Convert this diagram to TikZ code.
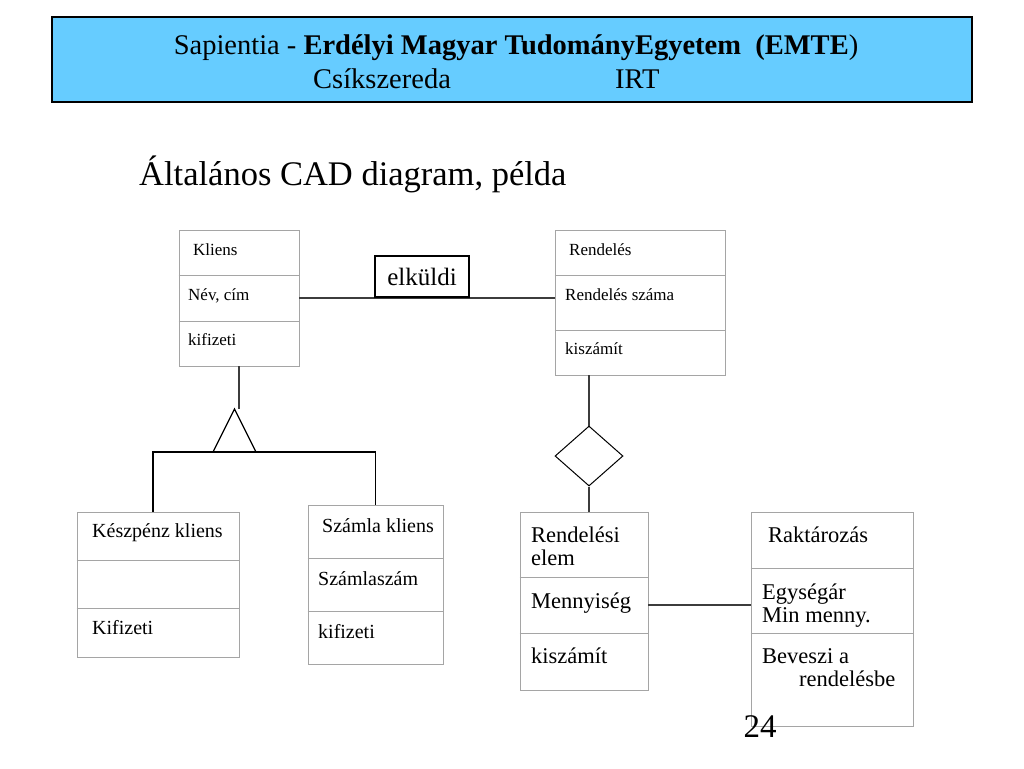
\documentclass[tikz,border=0pt]{standalone}
\usepackage{fontspec}
\setmainfont{Liberation Serif}
\usetikzlibrary{shapes.geometric, calc, positioning}
\usepackage{xcolor}
\definecolor{header}{RGB}{102,204,255}
\definecolor{boxline}{RGB}{165,165,165}
\definecolor{connline}{RGB}{60,60,60}

\begin{document}
\begin{tikzpicture}[x=1pt, y=-1pt]

% TikZ styles
\tikzset{
  classbox/.style={rectangle, draw=boxline, line width=0.9pt, inner sep=0pt},
  divider/.style={draw=boxline, line width=0.7pt},
  link/.style={draw=connline, line width=1.3pt},
  txt/.style={anchor=base west, inner sep=0pt, align=left},
  small/.style={font=\fontsize{17}{20}\selectfont},
  medium/.style={font=\fontsize{20}{23}\selectfont},
  big/.style={font=\fontsize{22.5}{23}\selectfont}
}

\useasboundingbox (0,0) rectangle (1024,768);

%==========================
% Kopfzeile
%==========================
\node[rectangle, draw=black, line width=2pt, fill=header, minimum width=920pt, minimum height=85pt] (header) at (512,59.5) {};
\node[anchor=base, inner sep=0pt, font=\fontsize{28.5}{30}\selectfont] (uni) at (516,55) {Sapientia - \textbf{Erdélyi Magyar TudományEgyetem\ \ (EMTE})};
\node[anchor=base west, inner sep=0pt, font=\fontsize{28.5}{30}\selectfont] (city) at (313,88) {Csíkszereda};
\node[anchor=base west, inner sep=0pt, font=\fontsize{28.5}{30}\selectfont] (irt) at (615,88) {IRT};

\node[anchor=base west, inner sep=0pt, font=\fontsize{34.5}{36}\selectfont] (title) at (139,185) {Általános CAD diagram, példa};

%==========================
% Klassen
%==========================
\node[classbox, minimum width=120pt, minimum height=136pt] (kliens) at (239,298) {};
\node[classbox, minimum width=170pt, minimum height=145pt] (rendeles) at (640,302.5) {};
\node[classbox, minimum width=162pt, minimum height=145pt] (keszpenz) at (158,584.5) {};
\node[classbox, minimum width=135pt, minimum height=159pt] (szamla) at (375.5,584.5) {};
\node[classbox, minimum width=128pt, minimum height=178pt] (relem) at (584,601) {};
\node[classbox, minimum width=162pt, minimum height=214pt] (raktar) at (832,619) {};

\draw[divider] (kliens.west |- 0,275) -- (kliens.east |- 0,275);
\draw[divider] (kliens.west |- 0,321) -- (kliens.east |- 0,321);
\draw[divider] (rendeles.west |- 0,275) -- (rendeles.east |- 0,275);
\draw[divider] (rendeles.west |- 0,330) -- (rendeles.east |- 0,330);
\draw[divider] (keszpenz.west |- 0,560) -- (keszpenz.east |- 0,560);
\draw[divider] (keszpenz.west |- 0,608) -- (keszpenz.east |- 0,608);
\draw[divider] (szamla.west |- 0,558) -- (szamla.east |- 0,558);
\draw[divider] (szamla.west |- 0,611) -- (szamla.east |- 0,611);
\draw[divider] (relem.west |- 0,577) -- (relem.east |- 0,577);
\draw[divider] (relem.west |- 0,633) -- (relem.east |- 0,633);
\draw[divider] (raktar.west |- 0,568) -- (raktar.east |- 0,568);
\draw[divider] (raktar.west |- 0,633) -- (raktar.east |- 0,633);

% Texte
\node[txt, small] (kliensname) at (193,255) {Kliens};
\node[txt, small] (kliensattr) at (188,300) {Név, cím};
\node[txt, small] (kliensop)   at (188,345) {kifizeti};

\node[txt, small] (rendname) at (569,255) {Rendelés};
\node[txt, small] (rendattr) at (565,300) {Rendelés száma};
\node[txt, small] (rendop)   at (565,354) {kiszámít};

\node[txt, medium] (keszname) at (92,537) {Készpénz kliens};
\node[txt, medium] (keszop)   at (92,634) {Kifizeti};

\node[txt, medium] (szamlaname) at (322,532) {Számla kliens};
\node[txt, medium] (szamlaattr) at (318,585) {Számlaszám};
\node[txt, medium] (szamlaop)   at (318,638) {kifizeti};

% bei mehrzeiligen Texten liegt base auf der letzten Zeile
\node[txt, big] (relemname) at (531,565) {Rendelési\\elem};
\node[txt, big] (relemattr) at (531,608) {Mennyiség};
\node[txt, big] (relemop)   at (531,663) {kiszámít};

\node[txt, big] (raktarname) at (768,542) {Raktározás};
\node[txt, big] (raktarattr) at (762,622) {Egységár\\Min menny.};
\node[txt, big] (raktarop)   at (762,686) {Beveszi a\\\hspace*{37pt}rendelésbe};

%==========================
% Verbindungen
%==========================
\draw[link] (kliens.east) -- (rendeles.west |- kliens.east);
\node[rectangle, draw=black, line width=1.3pt, fill=white, minimum width=94pt, minimum height=41pt, inner sep=0pt, font=\fontsize{25}{27}\selectfont] (elkuldi) at (422,276.5) {elküldi};

% Generalisierung
\coordinate (apex) at (234.5,409);
\coordinate (joinleft) at (153,452);
\coordinate (joinright) at (375.5,452);
\draw[link] (kliens.south) -- (kliens.south |- apex);
\draw[draw=black, line width=1.2pt] (apex) -- ++(-21.5,43) -- ++(43,0) -- cycle;
\draw[draw=black, line width=1.2pt] (keszpenz.north -| joinleft) -- (joinleft) -- (joinright) -- (szamla.north);

% Aggregation
\node[diamond, draw=black, line width=1pt, minimum width=68pt, minimum height=60pt, inner sep=0pt] (aggr) at (589,456) {};
\draw[link] (rendeles.south -| aggr) -- (aggr.north);
\draw[link] (aggr.south) -- (aggr |- relem.north);

\draw[link] (relem.east |- 0,605) -- (raktar.west |- 0,605);

\node[anchor=base, inner sep=0pt, font=\fontsize{33}{35}\selectfont] (page) at (760,737) {24};
\end{tikzpicture}
\end{document}
